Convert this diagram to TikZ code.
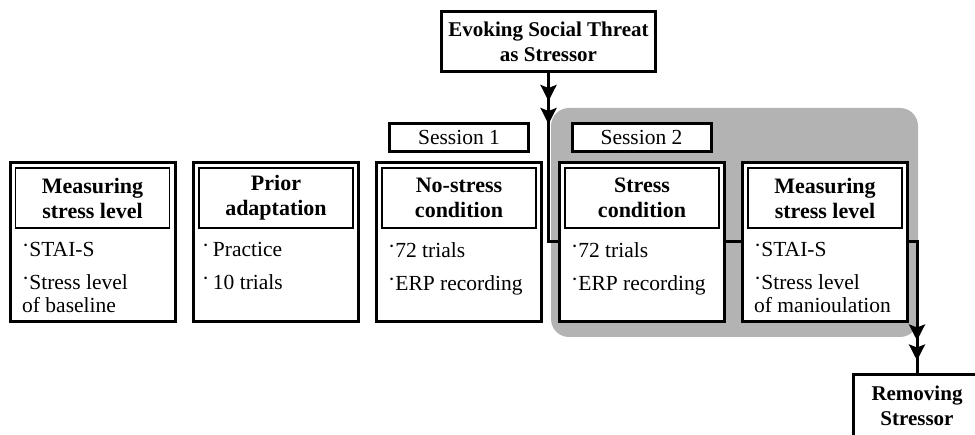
\documentclass[tikz,border=0pt]{standalone}
\usepackage{fontspec}
\setmainfont{Liberation Serif}
\usetikzlibrary{arrows.meta, positioning}
\definecolor{panelgray}{HTML}{B3B3B3}
\newcommand{\bul}{\raisebox{.35ex}{·}}

\begin{document}
\begin{tikzpicture}[x=1pt, y=-1pt,
  every node/.style={font=\fontsize{21.5}{23}\selectfont},
  outerbox/.style={draw, fill=white, line width=3pt, minimum width=165pt, minimum height=159pt},
  titlebox/.style={draw, line width=1.2pt, minimum width=154pt, minimum height=60pt, align=center, font=\fontsize{22}{25}\selectfont\bfseries},
  listtxt/.style={anchor=north west, align=left, inner sep=0pt},
  labelbox/.style={draw, fill=white, line width=3pt, minimum width=139pt, minimum height=28pt, inner sep=0pt},
  eventbox/.style={draw, fill=white, line width=3pt, align=center, inner sep=0pt, font=\fontsize{21}{25}\selectfont\bfseries},
  conn/.style={line width=3pt},
  arr/.style={conn, -{Stealth[length=16pt,width=16pt,inset=3pt]}},
]
\clip (0,0) rectangle (975,435);

% Session 2 panel
\fill[panelgray, rounded corners=18pt] (551,108) rectangle (918,337);

% Stressor events
\node[eventbox, minimum width=214pt, minimum height=60pt] (threat) at (548.5, 41.5) {Evoking Social Threat\\as Stressor};
\node[eventbox, minimum width=127pt, minimum height=62pt] (remove) at (917, 406) {Removing\\Stressor};

% Session labels
\node[labelbox] (sess1) at (459, 137.5) {Session 1};
\node[labelbox] (sess2) at (641.5, 137.5) {Session 2};

% Steps
\node[outerbox] (base) at (92.5, 242) {};
\node[outerbox] (prior) at (276, 242) {};
\node[outerbox] (nostress) at (459, 242) {};
\node[outerbox] (stress) at (642, 242) {};
\node[outerbox] (manip) at (825, 242) {};

% Step titles
\node[titlebox] (base-title) at (92.5, 198) {Measuring\\stress level};
\node[titlebox] (prior-title) at (276, 198) {Prior\\adaptation};
\node[titlebox] (nostress-title) at (459, 198) {No-stress\\condition};
\node[titlebox] (stress-title) at (642, 198) {Stress\\condition};
\node[titlebox] (manip-title) at (825, 198) {Measuring\\stress level};

% Step contents
\node[listtxt] (base-list) at (22, 242) {\bul STAI-S\\[10pt]\bul Stress level\\of baseline};
\node[listtxt] (prior-list) at (202, 242) {\bul\,Practice\\[10pt]\bul\,10 trials};
\node[listtxt] (nostress-list) at (388, 242) {\bul 72 trials\\[10pt]\bul ERP recording};
\node[listtxt] (stress-list) at (571, 242) {\bul 72 trials\\[10pt]\bul ERP recording};
\node[listtxt] (manip-list) at (754, 242) {\bul STAI-S\\[10pt]\bul Stress level\\of manioulation};

% Connectors
\draw[conn] (threat.south) |- (stress.west);
\draw[arr] (threat.south) -- ([yshift=-28pt]threat.south);
\draw[arr] (threat.south) -- ([yshift=-51pt]threat.south);
\draw[conn] (stress.east) -- (manip.west);
\draw[conn] (manip.east) -| (remove.north);
\draw[arr] (manip.east) -| ([yshift=33pt]remove.north);
\draw[arr] (manip.east) -| ([yshift=13pt]remove.north);

\end{tikzpicture}
\end{document}
